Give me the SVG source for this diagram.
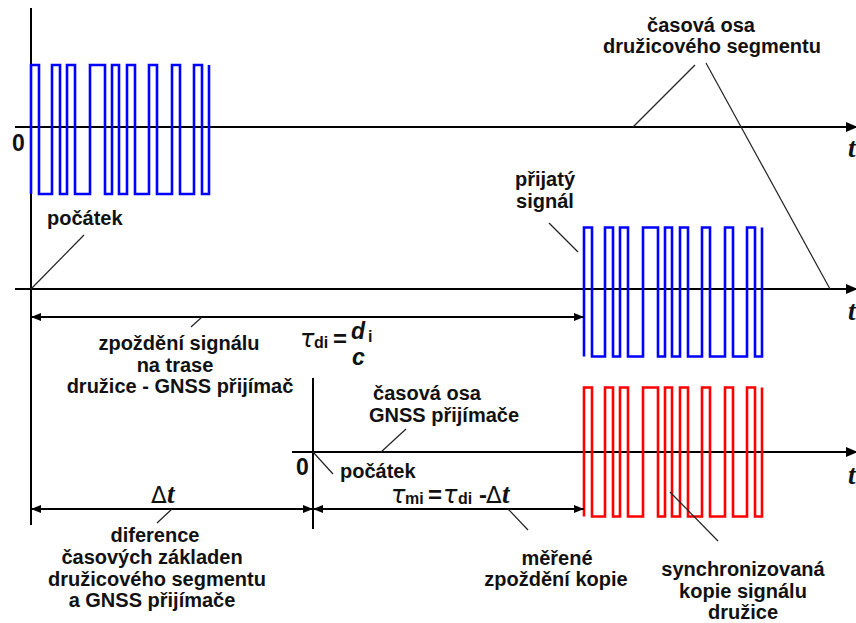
<svg xmlns="http://www.w3.org/2000/svg" width="856" height="623" viewBox="0 0 856 623">
  <style>
    .axis { stroke: #000; stroke-width: 2; fill: none; }
    .dim { stroke: #000; stroke-width: 1.8; fill: none; }
    .lead { stroke: #222; stroke-width: 1.2; fill: none; }
    .wave { fill: none; stroke-width: 2.6; stroke-linejoin: miter; }
    .lbl { font-family: "Liberation Sans", Arial, sans-serif; font-weight: bold; font-size: 20px; fill: #111; text-anchor: middle; }
    .lbl-s { font-family: "Liberation Sans", Arial, sans-serif; font-weight: bold; font-size: 20px; fill: #111; }
    .zero { font-family: "Liberation Sans", Arial, sans-serif; font-weight: bold; font-size: 23px; fill: #111; }
    .tvar { font-family: "Liberation Serif", "Times New Roman", serif; font-weight: bold; font-style: italic; font-size: 27px; fill: #111; }
    .greek { font-family: "DejaVu Sans", "Liberation Sans", sans-serif; font-style: italic; font-size: 24px; fill: #111; }
    .delta { font-family: "DejaVu Sans", "Liberation Sans", sans-serif; font-weight: normal; font-size: 23px; fill: #111; }
    .sub { font-family: "Liberation Sans", Arial, sans-serif; font-weight: bold; font-size: 16px; fill: #111; }
    .op { font-family: "Liberation Sans", Arial, sans-serif; font-weight: bold; font-size: 24px; fill: #111; }
    .frac { font-family: "Liberation Sans", Arial, sans-serif; font-weight: bold; font-style: italic; font-size: 23px; fill: #111; }
  </style>
  <defs>
    <!-- PRN code chip sequence, drawn from the rising edge at (0,129) -->
    <path id="code" d="M0,129 V0 H8 V129 H21 V0 H29 V129 H36 V0 H44 V129 H59 V0 H74 V129 H81 V0 H88 V129 H96 V0 H104 V129 H118 V0 H126 V129 H141 V0 H149 V129 H163 V0 H171 V129 H178 V0"/>
    <marker id="axisArrow" markerUnits="userSpaceOnUse" markerWidth="13" markerHeight="11" refX="12" refY="5" orient="auto">
      <path d="M0,0 L12,5 L0,10 z" fill="#000"/>
    </marker>
    <marker id="dimArrow" markerUnits="userSpaceOnUse" markerWidth="11" markerHeight="9" refX="10" refY="4" orient="auto-start-reverse">
      <path d="M0,0 L10,4 L0,8 z" fill="#000"/>
    </marker>
  </defs>

  <!-- time axes -->
  <g id="axes">
    <line class="axis" x1="31" y1="8" x2="31" y2="525"/>
    <line class="axis" x1="313" y1="378" x2="313" y2="529"/>
    <line class="axis" x1="15" y1="127" x2="858" y2="127" marker-end="url(#axisArrow)"/>
    <line class="axis" x1="15" y1="289" x2="858" y2="289" marker-end="url(#axisArrow)"/>
    <line class="axis" x1="292" y1="452" x2="858" y2="452" marker-end="url(#axisArrow)"/>
    <text class="zero" x="12" y="151">0</text>
    <text class="zero" x="296" y="475">0</text>
    <text class="tvar" x="848" y="157">t</text>
    <text class="tvar" x="848" y="320">t</text>
    <text class="tvar" x="848" y="484">t</text>
  </g>

  <!-- signals -->
  <g id="satellite-signal">
    <use href="#code" class="wave" stroke="#0000ff" transform="translate(31,65)"/>
  </g>
  <g id="received-signal">
    <use href="#code" class="wave" stroke="#0000ff" transform="translate(584,227.5)"/>
  </g>
  <g id="replica-signal">
    <use href="#code" class="wave" stroke="#ff0000" transform="translate(584,387.5)"/>
  </g>

  <!-- dimension lines and leader lines -->
  <g id="connectors">
    <line class="dim" x1="31" y1="317" x2="584" y2="317" marker-start="url(#dimArrow)" marker-end="url(#dimArrow)"/>
    <line class="dim" x1="31" y1="509" x2="313" y2="509" marker-start="url(#dimArrow)" marker-end="url(#dimArrow)"/>
    <line class="dim" x1="313" y1="509" x2="584" y2="509" marker-start="url(#dimArrow)" marker-end="url(#dimArrow)"/>
    <line class="lead" x1="695" y1="65" x2="633" y2="127"/>
    <line class="lead" x1="706" y1="63" x2="830" y2="289"/>
    <line class="lead" x1="84" y1="235" x2="31" y2="289"/>
    <line class="lead" x1="549" y1="223" x2="578" y2="252"/>
    <line class="lead" x1="202" y1="317" x2="191" y2="327"/>
    <line class="lead" x1="406" y1="429" x2="381" y2="452"/>
    <line class="lead" x1="313" y1="452" x2="333" y2="474"/>
    <line class="lead" x1="172" y1="509" x2="157" y2="523"/>
    <line class="lead" x1="508" y1="509" x2="528" y2="530"/>
    <line class="lead" x1="670" y1="492" x2="718" y2="541"/>
  </g>

  <!-- labels -->
  <g id="label-satellite-axis">
    <text class="lbl" x="701" y="32">časová osa</text>
    <text class="lbl" x="712" y="53">družicového segmentu</text>
  </g>
  <g id="label-origin-top">
    <text class="lbl-s" x="47" y="225">počátek</text>
  </g>
  <g id="label-received">
    <text class="lbl" x="545" y="186">přijatý</text>
    <text class="lbl" x="545" y="208">signál</text>
  </g>
  <g id="label-path-delay">
    <text class="lbl" x="179" y="350">zpoždění signálu</text>
    <text class="lbl" x="175" y="372">na trase</text>
    <text class="lbl" x="180" y="393">družice - GNSS přijímač</text>
  </g>
  <g id="formula-tau-di">
    <text class="greek" x="300" y="347">τ</text>
    <text class="sub" x="314" y="348">di</text>
    <text class="op" x="333" y="347">=</text>
    <text class="frac" x="351" y="339">d</text>
    <text class="sub" x="368" y="342">i</text>
    <text class="frac" x="352" y="365">c</text>
  </g>
  <g id="label-receiver-axis">
    <text class="lbl" x="427" y="400">časová osa</text>
    <text class="lbl" x="444" y="422">GNSS přijímače</text>
  </g>
  <g id="label-origin-receiver">
    <text class="lbl-s" x="340" y="478">počátek</text>
  </g>
  <g id="formula-tau-mi">
    <text class="greek" x="391" y="503">τ</text>
    <text class="sub" x="405" y="504">mi</text>
    <text class="op" x="428" y="503">=</text>
    <text class="greek" x="443" y="503">τ</text>
    <text class="sub" x="458" y="504">di</text>
    <text class="op" x="479" y="503">-</text>
    <text class="delta" x="486" y="503">Δ</text>
    <text class="tvar" x="502" y="503">t</text>
  </g>
  <g id="label-delta-t">
    <text class="delta" x="151" y="503">Δ</text>
    <text class="tvar" x="167" y="503">t</text>
  </g>
  <g id="label-time-base">
    <text class="lbl" x="155" y="542">diference</text>
    <text class="lbl" x="152" y="564">časových základen</text>
    <text class="lbl" x="157" y="586">družicového segmentu</text>
    <text class="lbl" x="152" y="607">a GNSS přijímače</text>
  </g>
  <g id="label-measured">
    <text class="lbl" x="557" y="565">měřené</text>
    <text class="lbl" x="556" y="586">zpoždění kopie</text>
  </g>
  <g id="label-replica">
    <text class="lbl" x="743" y="576">synchronizovaná</text>
    <text class="lbl" x="743" y="598">kopie signálu</text>
    <text class="lbl" x="743" y="619">družice</text>
  </g>
</svg>
